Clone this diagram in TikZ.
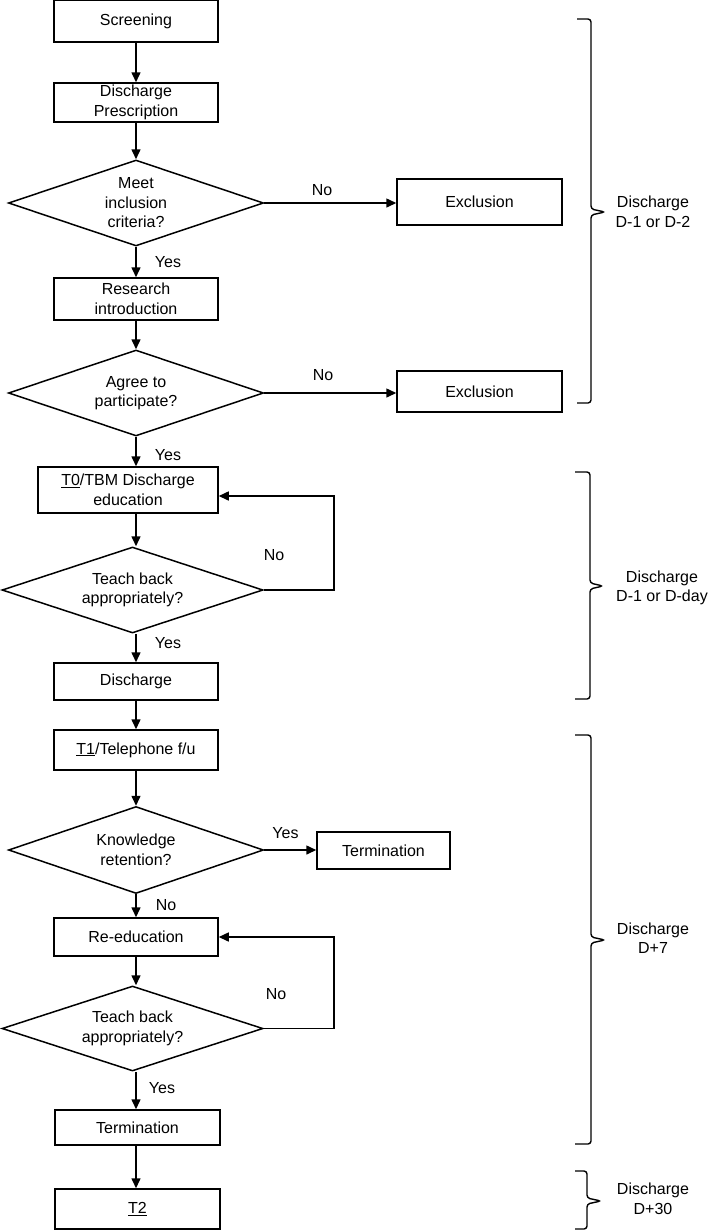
\documentclass[tikz,border=0pt]{standalone}
\usepackage{fontspec}
\setmainfont{Liberation Sans}
\usetikzlibrary{shapes}
\usetikzlibrary{arrows.meta}

\begin{document}
\begin{tikzpicture}[x=1pt,y=-1pt,
  font=\fontsize{16}{19.5}\selectfont,
  line width=1.5pt,
  box/.style={draw, rectangle, align=center, inner sep=0pt, minimum width=164, minimum height=40},
  ask/.style={draw, diamond, aspect=3, align=center, inner sep=0pt, minimum width=255, minimum height=86},
  arr/.style={-{Triangle[length=10pt,width=9pt]}},
  brc/.style={rounded corners=3pt, line width=1.4pt},
  lbl/.style={inner sep=0pt, align=center}]
\useasboundingbox (0,0) rectangle (709,1232);
% main column
\node[box, minimum height=42] (scr) at (136,21) {Screening};
\node[box, minimum height=39] (presc) at (136,102.5) {Discharge\\Prescription};
\node[ask] (inc) at (136,203) {Meet\\inclusion\\criteria?};
\node[box, minimum height=42] (res) at (136,299) {Research\\introduction};
\node[ask] (agr) at (136,393) {Agree to\\participate?};
\node[box, minimum width=180, minimum height=46] (edu) at (128,490) {\underline{T0}/TBM Discharge\\education};
\node[ask, minimum width=261] (tb1) at (132.5,590) {Teach back\\appropriately?};
\node[box, minimum height=37] (dis) at (136,681.5) {Discharge};
\node[box] (tel) at (136,750) {\underline{T1}/Telephone f/u};
\node[ask, minimum height=87] (know) at (136,850) {Knowledge\\retention?};
\node[box, minimum height=38] (reed) at (136,937) {Re-education};
\node[ask, minimum width=261, minimum height=85] (tb2) at (132.5,1028.5) {Teach back\\appropriately?};
\node[box, minimum width=165, minimum height=35] (term) at (137.5,1127.5) {Termination};
\node[box, minimum width=165] (tt) at (137.5,1209) {\underline{T2}};
% side boxes
\node[box, minimum width=165, minimum height=46] (exa) at (479.5,202) {Exclusion};
\node[box, minimum width=165, minimum height=41] (exb) at (479.5,391.5) {Exclusion};
\node[box, minimum width=133, minimum height=37] (termk) at (383.5,850.5) {Termination};
% arrows down
\draw[arr] (scr) -- (presc);
\draw[arr] (presc) -- (inc);
\draw[arr] (inc) -- (res);
\draw[arr] (res) -- (agr);
\draw[arr] (agr.south) -- (agr.south |- edu.north);
\draw[arr] (edu.south -| scr) -- (tb1.north -| scr);
\draw[arr] (tb1.south -| scr) -- (dis.north -| scr);
\draw[arr] (dis) -- (tel);
\draw[arr] (tel) -- (know);
\draw[arr] (know) -- (reed);
\draw[arr] (reed.south -| scr) -- (tb2.north -| scr);
\draw[arr] (tb2.south -| scr) -- (term.north -| scr);
\draw[arr] (term.south -| scr) -- (tt.north -| scr);
% arrows right
\draw[arr] (inc.east) -- (inc.east -| exa.west);
\draw[arr] (agr.east) -- (agr.east -| exb.west);
\draw[arr] (know.east) -- (know.east -| termk.west);
% loops
\draw[arr] (tb1.east) -- ++(70,0) |- ([yshift=-6pt]edu.east);
\draw[arr] (tb2.east) -- ++(70,0) |- (reed.east);
% yes / no
\node[lbl] (no1) at (322,190) {No};
\node[lbl] (yes1) at (168,262) {Yes};
\node[lbl] (no2) at (323,375) {No};
\node[lbl] (yes2) at (168,455) {Yes};
\node[lbl] (no3) at (274,555) {No};
\node[lbl] (yes3) at (168,643) {Yes};
\node[lbl] (yes4) at (285.5,833) {Yes};
\node[lbl] (no4) at (166,905) {No};
\node[lbl] (no5) at (276,994) {No};
\node[lbl] (yes5) at (162,1088) {Yes};
% braces
\draw[brc] (577,19) -- (591,19) -- (591,209) -- (605,212) -- (591,215) -- (591,403) -- (577,403);
\draw[brc] (575,472) -- (590,472) -- (590,583) -- (603,586) -- (590,589) -- (590,699) -- (575,699);
\draw[brc] (575,735) -- (591,735) -- (591,937) -- (605,940) -- (591,943) -- (591,1144) -- (575,1144);
\draw[brc] (575,1171) -- (587,1171) -- (587,1198) -- (601,1201) -- (587,1204) -- (587,1229) -- (575,1229);
\node[lbl] (pa) at (653,212) {Discharge\\D-1 or D-2};
\node[lbl] (pb) at (662,588) {Discharge\\D-1 or D-day};
\node[lbl] (pc) at (653,938) {Discharge\\D+7};
\node[lbl] (pd) at (653,1199) {Discharge\\D+30};
\end{tikzpicture}
\end{document}
